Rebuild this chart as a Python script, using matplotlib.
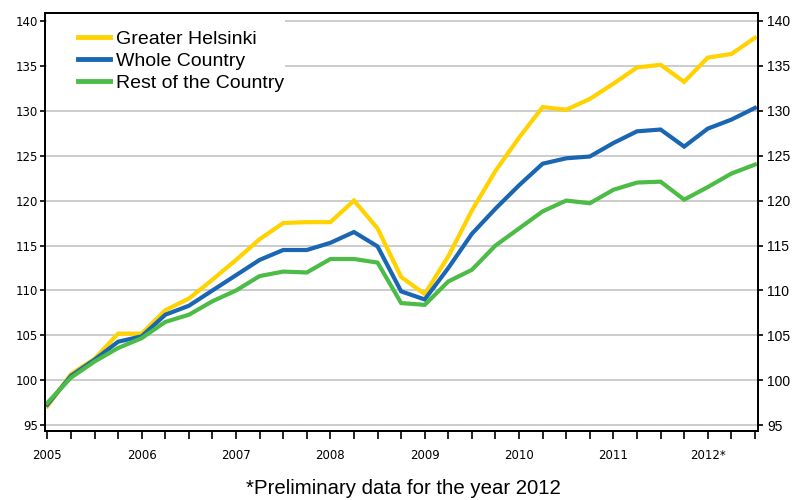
import matplotlib
matplotlib.use("Agg")
import matplotlib.pyplot as plt
import numpy as np
from matplotlib.patches import Rectangle

# quarterly index values, 2005 Q1 .. 2012 Q3
helsinki = [97.1, 100.7, 102.4, 105.2, 105.2, 107.8, 109.1, 111.2,
            113.4, 115.7, 117.5, 117.6, 117.6, 120.0, 116.9, 111.5,
            109.6, 113.8, 118.9, 123.3, 127.0, 130.4, 130.1, 131.3,
            133.0, 134.8, 135.1, 133.2, 135.9, 136.3, 138.1]
whole = [97.3, 100.5, 102.3, 104.3, 104.9, 107.3, 108.3, 110.0,
         111.7, 113.4, 114.5, 114.5, 115.3, 116.5, 114.9, 109.9,
         109.0, 112.5, 116.3, 119.1, 121.7, 124.1, 124.7, 124.9,
         126.4, 127.7, 127.9, 126.0, 128.0, 129.0, 130.3]
rest = [97.5, 100.3, 102.1, 103.6, 104.7, 106.5, 107.3, 108.8,
        110.0, 111.6, 112.1, 112.0, 113.5, 113.5, 113.1, 108.6,
        108.4, 111.0, 112.3, 115.0, 116.9, 118.8, 120.0, 119.7,
        121.2, 122.0, 122.1, 120.1, 121.5, 123.0, 124.0]
series_names = ["Greater Helsinki", "Whole Country", "Rest of the Country"]
colors = ["#FFD200", "#1A66B2", "#4CBC46"]
year_labels = ["2005", "2006", "2007", "2008", "2009", "2010", "2011", "2012*"]
yticks = np.arange(95, 141, 5)

x = np.arange(len(helsinki))

fig = plt.figure(figsize=(7.98, 5.0), dpi=100)
ax = fig.add_axes([45/798, 1-431/500, 713/798, 418/500])

for vals, name, col, z in zip([helsinki, whole, rest], series_names, colors, [3, 4, 5]):
    ax.plot(x, vals, color=col, linewidth=3, label=name, zorder=z,
            solid_joinstyle='miter')

ax.set_xlim(-0.1, 30.13)
ax.set_ylim(94.37, 140.86)

ax.set_yticks(yticks)
ax.set_yticklabels([str(v) for v in yticks], fontsize=8.5, family='DejaVu Sans')
ax.yaxis.grid(True, color='#c8c8c8', linewidth=1.3)
ax.set_axisbelow(True)

ax.set_xticks(np.arange(0, 29, 4))
ax.set_xticklabels(year_labels, fontsize=8.5, family='DejaVu Sans')
ax.set_xticks(np.arange(0, 31), minor=True)
ax.tick_params(axis='x', which='both', direction='out', length=6, width=1.2, pad=7)
ax.tick_params(axis='y', direction='out', length=3.5, width=1.2, pad=1.5)

ax2 = ax.twinx()
ax2.set_ylim(ax.get_ylim())
ax2.set_yticks(yticks)
ax2.set_yticklabels([str(v) for v in yticks], fontsize=10, family='Liberation Sans')
ax2.tick_params(axis='y', direction='out', length=3.5, width=1.2, pad=3)

for a in (ax, ax2):
    for s in a.spines.values():
        s.set_color('black')
        s.set_linewidth(1.3)

# white patch behind the legend hides the gridlines there
ax.add_patch(Rectangle((0.003, 0.804), 0.334, 0.194, transform=ax.transAxes,
                       facecolor='white', edgecolor='none', zorder=1))

leg = ax.legend(loc='upper left', bbox_to_anchor=(0.046, 0.959), frameon=False,
                borderpad=0, borderaxespad=0, handlelength=1.65, handletextpad=0.31,
                labelspacing=0.22, prop={'family': 'Liberation Sans', 'size': 14})
for h in leg.get_lines():
    h.set_linewidth(3.5)

fig.text(0.506, 0.024, "*Preliminary data for the year 2012", ha='center', va='center',
         fontsize=14.7, family='Liberation Sans')

fig.savefig("out.png", dpi=100)
